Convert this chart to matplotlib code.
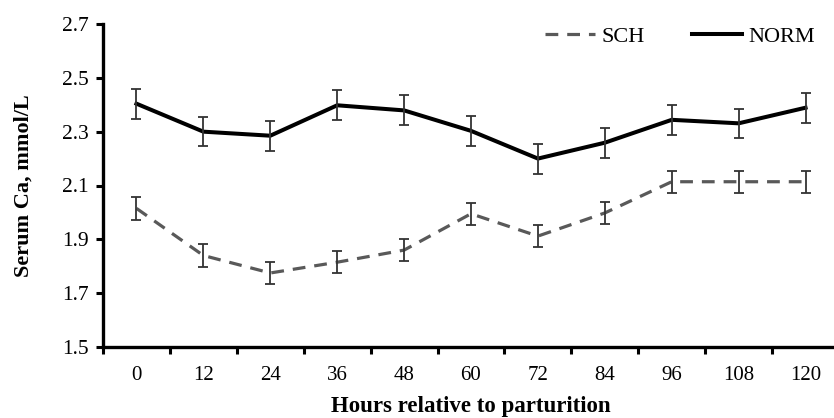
import numpy as np
import matplotlib.pyplot as plt

plt.rcParams['font.family'] = ['Liberation Serif', 'DejaVu Serif']

# Data
hours = ['0', '12', '24', '36', '48', '60', '72', '84', '96', '108', '120']
sch_mean = [2.015, 1.840, 1.775, 1.815, 1.860, 1.995, 1.912, 1.998, 2.114, 2.114, 2.114]
sch_se = [0.042, 0.041, 0.040, 0.040, 0.040, 0.040, 0.041, 0.041, 0.041, 0.041, 0.041]
norm_mean = [2.404, 2.300, 2.285, 2.398, 2.379, 2.303, 2.200, 2.259, 2.344, 2.331, 2.389]
norm_se = [0.056, 0.055, 0.055, 0.055, 0.056, 0.056, 0.056, 0.056, 0.056, 0.055, 0.055]
y_ticks = [1.5, 1.7, 1.9, 2.1, 2.3, 2.5, 2.7]

x = np.arange(len(hours))

fig = plt.figure(figsize=(8.34, 4.18), dpi=100)
ax = fig.add_axes([103 / 834, 1 - 347 / 418, 736 / 834, 323 / 418])

ax.plot(x, sch_mean, color='#595959', linewidth=2.3,
        dashes=(4.0, 2.8), label='SCH', zorder=2)
ax.plot(x, norm_mean, color='black', linewidth=2.9,
        label='NORM', zorder=2)
ax.errorbar(x, sch_mean, yerr=sch_se, fmt='none', ecolor='#333333',
            elinewidth=1.3, capsize=3.8, capthick=1.3, zorder=3)
ax.errorbar(x, norm_mean, yerr=norm_se, fmt='none', ecolor='#333333',
            elinewidth=1.3, capsize=3.8, capthick=1.3, zorder=3)

ax.set_xlim(-0.5, len(hours) - 0.5)
ax.set_ylim(1.5, 2.7)
ax.set_yticks(y_ticks)
ax.set_yticklabels([f'{v:.1f}' for v in y_ticks])

# labels at category centres, tick marks at category boundaries
ax.set_xticks(x)
ax.set_xticklabels(hours)
ax.set_xticks(np.arange(len(hours) + 1) - 0.5, minor=True)
ax.tick_params(axis='x', which='major', length=0, pad=13.5, labelsize=15)
ax.tick_params(axis='x', which='minor', length=5, width=2.2, direction='out')
ax.tick_params(axis='y', length=5, width=2.2, direction='out', pad=5, labelsize=15.5)

for side in ['top', 'right']:
    ax.spines[side].set_visible(False)
for side in ['left', 'bottom']:
    ax.spines[side].set_linewidth(2.4)

ax.set_ylabel('Serum Ca, mmol/L', fontsize=16, fontweight='bold')
ax.set_xlabel('Hours relative to parturition', fontsize=16.5, fontweight='bold')
ax.yaxis.set_label_coords(-0.094, 0.5)
ax.xaxis.set_label_coords(0.5, -0.153)

leg = ax.legend(loc='center right', bbox_to_anchor=(815 / 834, 1 - 37 / 418),
                bbox_transform=fig.transFigure, ncol=2, frameon=False,
                fontsize=16, handlelength=2.25, columnspacing=2.1,
                handletextpad=0.3, borderpad=0, borderaxespad=0)

fig.savefig('out.png', dpi=100)
